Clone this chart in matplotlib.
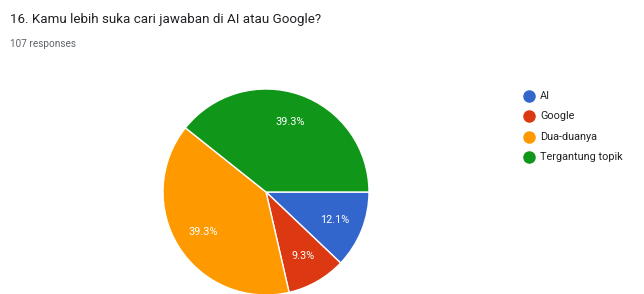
import matplotlib
matplotlib.use("Agg")
import matplotlib.pyplot as plt
from matplotlib.lines import Line2D

TITLE = "16. Kamu lebih suka cari jawaban di AI atau Google?"
SUBTITLE = "107 responses"
CATEGORIES = ["AI", "Google", "Dua-duanya", "Tergantung topik"]
PERCENTS = [12.1, 9.3, 39.3, 39.3]
COLORS = ["#3366cc", "#dc3912", "#ff9900", "#109618"]

W, H = 644, 294
fig = plt.figure(figsize=(W / 100, H / 100), dpi=100)
plt.rcParams['font.family'] = ['Roboto', 'DejaVu Sans']

fig.text(10 / W, 1 - 19 / H, TITLE, fontsize=9.6, color="#202124", va="center", ha="left")
fig.text(10 / W, 1 - 44 / H, SUBTITLE, fontsize=7.2, color="#5f6368", va="center", ha="left")

# pie placed by pixel centre / radius
cx, cy, r = 266, 192, 103
ax = fig.add_axes([(cx - r) / W, (H - cy - r) / H, 2 * r / W, 2 * r / H])
wedges, texts, autotexts = ax.pie(
    PERCENTS, colors=COLORS, startangle=0, counterclock=False,
    autopct=lambda p: f"{p:.1f}%", pctdistance=0.72,
    wedgeprops=dict(edgecolor="white", linewidth=1.0),
    textprops=dict(color="white", fontsize=7.8),
)
ax.set_xlim(-1, 1)
ax.set_ylim(-1, 1)
ax.set_aspect("equal")
ax.axis("off")

# legend on the right
for i, (cat, col) in enumerate(zip(CATEGORIES, COLORS)):
    y = 1 - (96 + i * 20.3) / H
    fig.add_artist(Line2D([529 / W], [y], marker="o", markersize=8, color=col,
                          linestyle="none", transform=fig.transFigure))
    fig.text(540 / W, y, cat, fontsize=7.8, color="#222222", va="center", ha="left")

fig.savefig("out.png", dpi=100)
